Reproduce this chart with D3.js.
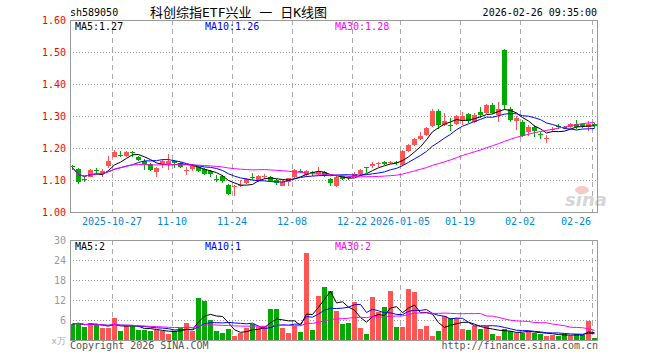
<!DOCTYPE html>
<html>
<head>
<meta charset="utf-8">
<script src="https://cdn.jsdelivr.net/npm/d3@7"></script>
<style>
body { margin: 0; background: #fff; }
text { font-family: "DejaVu Sans Mono", monospace; font-size: 10px; }
</style>
</head>
<body>
<div id="chart"></div>
<script>
// trading days shown
var dates = [
  "2025-10-16","2025-10-17","2025-10-20","2025-10-21","2025-10-22","2025-10-23","2025-10-24","2025-10-27","2025-10-28","2025-10-29","2025-10-30","2025-10-31",
  "2025-11-03","2025-11-04","2025-11-05","2025-11-06","2025-11-07","2025-11-10","2025-11-11","2025-11-12","2025-11-13","2025-11-14",
  "2025-11-17","2025-11-18","2025-11-19","2025-11-20","2025-11-21","2025-11-24","2025-11-25","2025-11-26","2025-11-27","2025-11-28",
  "2025-12-01","2025-12-02","2025-12-03","2025-12-04","2025-12-05","2025-12-08","2025-12-09","2025-12-10","2025-12-11","2025-12-12",
  "2025-12-15","2025-12-16","2025-12-17","2025-12-18","2025-12-19","2025-12-22","2025-12-23","2025-12-24","2025-12-25","2025-12-26",
  "2025-12-29","2025-12-30","2025-12-31",
  "2026-01-05","2026-01-06","2026-01-07","2026-01-08","2026-01-09","2026-01-12","2026-01-13","2026-01-14","2026-01-15","2026-01-16",
  "2026-01-19","2026-01-20","2026-01-21","2026-01-22","2026-01-23","2026-01-26","2026-01-27","2026-01-28","2026-01-29","2026-01-30",
  "2026-02-02","2026-02-03","2026-02-04","2026-02-05","2026-02-06","2026-02-09","2026-02-10","2026-02-11","2026-02-12","2026-02-13",
  "2026-02-24","2026-02-25","2026-02-26"
];

var open = [1.143,1.135,1.103,1.110,1.131,1.123,1.142,1.173,1.177,1.175,1.186,1.173,1.160,1.150,1.126,1.149,1.150,1.159,1.154,1.128,1.137,1.142,
  1.134,1.128,1.104,1.112,1.084,1.078,1.083,1.090,1.109,1.097,1.110,1.110,1.100,1.084,1.093,1.108,1.129,1.116,1.124,1.121,1.126,1.103,
  1.081,1.113,1.108,1.110,1.119,1.140,1.145,1.150,1.157,1.155,1.155,1.147,1.191,1.209,1.228,1.241,1.269,1.316,1.272,1.273,1.275,1.288,
  1.305,1.282,1.313,1.308,1.334,1.303,1.506,1.322,1.285,1.282,1.251,1.267,1.244,1.229,1.258,1.268,1.265,1.265,1.274,1.274,1.265,1.274];
var high = [1.147,1.137,1.112,1.134,1.137,1.133,1.175,1.194,1.191,1.191,1.191,1.175,1.165,1.152,1.142,1.165,1.181,1.162,1.157,1.142,1.149,1.145,
  1.137,1.131,1.116,1.116,1.088,1.084,1.100,1.105,1.123,1.116,1.119,1.113,1.102,1.100,1.107,1.133,1.134,1.131,1.128,1.140,1.128,1.105,
  1.112,1.116,1.113,1.126,1.133,1.140,1.155,1.157,1.160,1.160,1.159,1.194,1.213,1.232,1.251,1.267,1.322,1.322,1.308,1.293,1.303,1.313,
  1.308,1.308,1.329,1.338,1.340,1.345,1.508,1.327,1.300,1.288,1.272,1.272,1.251,1.241,1.267,1.274,1.269,1.277,1.288,1.277,1.285,1.277];
var low = [1.130,1.088,1.094,1.108,1.119,1.108,1.137,1.171,1.172,1.173,1.172,1.159,1.131,1.129,1.110,1.137,1.131,1.137,1.137,1.116,1.129,1.126,
  1.116,1.110,1.095,1.092,1.053,1.051,1.077,1.087,1.100,1.094,1.102,1.095,1.084,1.081,1.081,1.105,1.121,1.110,1.113,1.116,1.108,1.081,
  1.079,1.100,1.100,1.108,1.116,1.123,1.137,1.141,1.147,1.150,1.147,1.144,1.188,1.206,1.225,1.238,1.267,1.259,1.269,1.254,1.272,1.272,
  1.277,1.277,1.293,1.306,1.306,1.282,1.319,1.282,1.256,1.233,1.238,1.235,1.227,1.217,1.251,1.259,1.259,1.262,1.259,1.263,1.254,1.264];
var close = [1.139,1.095,1.101,1.131,1.129,1.128,1.159,1.188,1.175,1.188,1.184,1.163,1.152,1.131,1.138,1.159,1.159,1.153,1.142,1.131,1.145,1.131,
  1.118,1.119,1.102,1.097,1.056,1.080,1.085,1.102,1.107,1.113,1.112,1.098,1.090,1.095,1.105,1.131,1.128,1.128,1.123,1.126,1.116,1.092,
  1.110,1.104,1.107,1.119,1.131,1.138,1.151,1.152,1.151,1.157,1.153,1.191,1.209,1.228,1.238,1.263,1.316,1.272,1.284,1.272,1.300,1.300,
  1.282,1.303,1.303,1.334,1.310,1.321,1.334,1.288,1.295,1.238,1.267,1.256,1.243,1.231,1.260,1.266,1.263,1.275,1.264,1.267,1.274,1.267];
// volume, 10k lots
var volume = [4.8,5.2,3.9,5.0,4.7,3.6,3.6,6.6,2.7,4.3,4.1,3.0,3.0,2.7,3.0,2.7,1.8,2.8,3.5,5.1,2.8,12.7,
  11.8,6.0,2.7,2.1,3.2,1.3,2.2,3.7,4.8,3.8,4.2,9.3,9.3,3.7,2.2,4.3,2.5,26.2,3.0,13.2,16.0,14.7,
  8.7,4.8,5.1,11.5,3.6,1.8,13.0,8.3,10.0,14.8,3.9,3.9,15.3,14.5,3.3,4.3,1.3,2.7,7.2,6.7,6.5,3.3,
  3.0,4.2,3.3,4.2,1.8,1.3,3.3,2.7,2.2,2.2,2.7,2.2,1.8,1.3,1.5,1.3,1.7,1.3,1.8,1.5,5.8,0.7];

var tickDates = ["2025-10-27","2025-11-10","2025-11-24","2025-12-08","2025-12-22","2026-01-05","2026-01-19","2026-02-02","2026-02-26"];
var tickLabels = ["2025-10-27","11-10","11-24","12-08","12-22","2026-01-05","01-19","02-02","02-26"];
var priceTicks = [1.00, 1.10, 1.20, 1.30, 1.40, 1.50, 1.60];
var volTicks = [6, 12, 18, 24, 30];
var priceLabels = ["MA5:1.27", "MA10:1.26", "MA30:1.28"];
var volLabels = ["MA5:2", "MA10:1", "MA30:2"];
var maColors = ["#000", "#0000ff", "#ff00ff"];
var maDays = [5, 10, 30];

var up = "#ff5555", down = "#00aa00";
var left = 70, right = 597, pTop = 20, pBot = 212, vTop = 240, vBot = 340;

var svg = d3.select("#chart").append("svg")
  .attr("width", 660)
  .attr("height", 360);

var data = dates.map((d, i) => ({date: d, o: open[i], h: high[i], l: low[i], c: close[i], v: volume[i]}));

var x = d3.scaleBand().domain(dates).range([left, left + 6 * dates.length]);
var y = d3.scaleLinear().domain([1.0, 1.6]).range([pBot, pTop]);
var yv = d3.scaleLinear().domain([0, 30]).range([vBot, vTop]);
var xc = d => x(d) + 2.5;

function ma(arr, n) {
  return arr.map((v, i) => d3.mean(arr.slice(Math.max(0, i - n + 1), i + 1)));
}

// grid lines
[[pTop, pBot], [vTop, vBot]].forEach(p => {
  svg.append("g").selectAll("line")
    .data(tickDates)
    .enter().append("line")
    .attr("x1", d => x(d) + 0.5).attr("x2", d => x(d) + 0.5)
    .attr("y1", p[0]).attr("y2", p[1])
    .attr("stroke", "#aaa")
    .attr("stroke-dasharray", "5,4");
});
svg.append("g").selectAll("line")
  .data(priceTicks.slice(1, -1))
  .enter().append("line")
  .attr("x1", left).attr("x2", right)
  .attr("y1", d => Math.round(y(d)) + 0.5).attr("y2", d => Math.round(y(d)) + 0.5)
  .attr("stroke", "#999")
  .attr("stroke-dasharray", "1,2");
svg.append("g").selectAll("line")
  .data(volTicks.slice(0, -1))
  .enter().append("line")
  .attr("x1", left).attr("x2", right)
  .attr("y1", d => Math.round(yv(d)) + 0.5).attr("y2", d => Math.round(yv(d)) + 0.5)
  .attr("stroke", "#999")
  .attr("stroke-dasharray", "1,2");

// sina watermark
svg.append("ellipse")
  .attr("cx", 582).attr("cy", 190).attr("rx", 7).attr("ry", 4)
  .attr("fill", "#f7caca");
svg.append("text")
  .attr("x", 565).attr("y", 206)
  .style("font", "italic bold 18px 'DejaVu Sans', sans-serif")
  .attr("fill", "#d6d6d6")
  .text("sina");

// candles
var candle = svg.append("g").selectAll("g")
  .data(data)
  .enter().append("g")
  .attr("fill", d => d.c >= d.o ? up : down)
  .attr("stroke", d => d.c >= d.o ? up : down)
  .attr("shape-rendering", "crispEdges");
candle.append("line")
  .attr("x1", d => xc(d.date)).attr("x2", d => xc(d.date))
  .attr("y1", d => Math.round(y(d.h))).attr("y2", d => Math.round(y(d.l)));
candle.append("rect")
  .attr("stroke", "none")
  .attr("x", d => x(d.date))
  .attr("width", 5)
  .attr("y", d => Math.round(y(Math.max(d.o, d.c))))
  .attr("height", d => Math.max(1, Math.round(Math.abs(y(d.o) - y(d.c)))));

// volume bars
svg.append("g").selectAll("rect")
  .data(data)
  .enter().append("rect")
  .attr("shape-rendering", "crispEdges")
  .attr("x", d => x(d.date))
  .attr("width", 5)
  .attr("y", d => Math.round(yv(d.v)))
  .attr("height", d => vBot - Math.round(yv(d.v)))
  .attr("fill", d => d.c >= d.o ? up : down);

// moving averages
maDays.forEach((n, k) => {
  var pm = ma(close, n), vm = ma(volume, n);
  svg.append("path")
    .datum(dates)
    .attr("fill", "none")
    .attr("stroke", maColors[k])
    .attr("d", d3.line().x(d => xc(d)).y((d, i) => y(pm[i])));
  svg.append("path")
    .datum(dates)
    .attr("fill", "none")
    .attr("stroke", maColors[k])
    .attr("d", d3.line().x(d => xc(d)).y((d, i) => yv(vm[i])));
});

// frames
[[pTop, pBot], [vTop, vBot]].forEach(p => {
  svg.append("rect")
    .attr("x", left + 0.5).attr("y", p[0] + 0.5)
    .attr("width", right - left).attr("height", p[1] - p[0])
    .attr("fill", "none")
    .attr("stroke", "#999");
});

// axes
var yAxis = svg.append("g")
  .attr("transform", `translate(${left}, 0)`)
  .call(d3.axisLeft(y).tickValues(priceTicks).tickFormat(d3.format(".2f")).tickSize(0).tickPadding(4));
yAxis.select(".domain").remove();
yAxis.selectAll("text").attr("fill", "#f00").style("font-size", "10px").style("font-family", "'DejaVu Sans Mono', monospace");

var vAxis = svg.append("g")
  .attr("transform", `translate(${left}, 0)`)
  .call(d3.axisLeft(yv).tickValues(volTicks).tickFormat(d3.format("d")).tickSize(0).tickPadding(4));
vAxis.select(".domain").remove();
vAxis.selectAll("text").attr("fill", "#999").style("font-size", "10px").style("font-family", "'DejaVu Sans Mono', monospace");
svg.append("text")
  .attr("x", left - 4).attr("y", 344)
  .attr("text-anchor", "end")
  .attr("fill", "#aaa")
  .style("font-size", "9px")
  .text("x万");

svg.append("g").selectAll("text")
  .data(tickDates)
  .enter().append("text")
  .attr("x", (d, i) => i === tickDates.length - 1 ? x(d) - 1 : x(d))
  .attr("y", 225)
  .attr("text-anchor", (d, i) => i === tickDates.length - 1 ? "end" : "middle")
  .attr("fill", "#0088dd")
  .text((d, i) => tickLabels[i]);

// labels
[[priceLabels, 30], [volLabels, 250]].forEach(p => {
  svg.append("g").selectAll("text")
    .data(p[0])
    .enter().append("text")
    .attr("x", (d, i) => 75 + 130 * i)
    .attr("y", p[1])
    .attr("fill", (d, i) => maColors[i])
    .text(d => d);
});

svg.append("text").attr("x", 70).attr("y", 16).text("sh589050");
svg.append("text").attr("x", 150).attr("y", 17)
  .style("font-size", "13px")
  .style("font-family", "'DejaVu Sans Mono', 'Noto Sans CJK SC', sans-serif")
  .text("科创综指ETF兴业 一 日K线图");
svg.append("text").attr("x", 597).attr("y", 16).attr("text-anchor", "end").text("2026-02-26 09:35:00");

svg.append("text").attr("x", 70).attr("y", 349).attr("fill", "#555").text("Copyright 2026 SINA.COM");
svg.append("text").attr("x", 598).attr("y", 349).attr("text-anchor", "end").attr("fill", "#555").text("http://finance.sina.com.cn");
</script>
</body>
</html>
